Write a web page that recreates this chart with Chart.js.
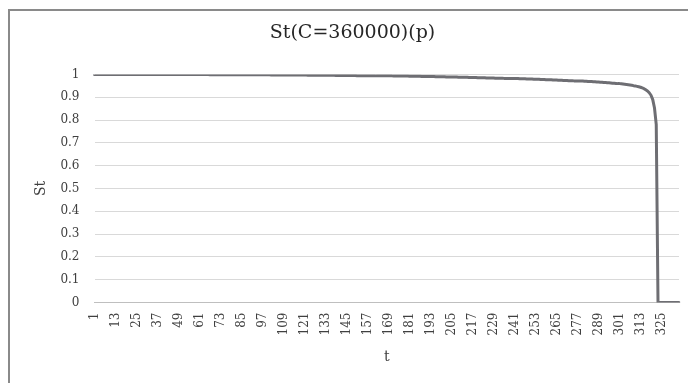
<!DOCTYPE html>
<html>
<head>
<meta charset="utf-8">
<script src="https://cdn.jsdelivr.net/npm/chart.js@4/dist/chart.umd.min.js"></script>
<style>
  html, body { margin: 0; padding: 0; background: #fff; }
  #wrap { width: 688px; height: 383px; position: relative; }
</style>
</head>
<body>
<div id="wrap"><canvas id="c" width="688" height="383"></canvas></div>
<script>
// Survival curve St for capital C = 360000, one value per period t = 1, 2, ...
const chartTitle = 'St(C=360000)(p)';
const xTitle = 't';
const yTitle = 'St';

const stValues = [
  1,1,1,1,1,1,1,1,1,1,1,                       // t 1-11
  1,1,1,1,1,1,1,1,1,1,1,                       // t 12-22
  1,1,1,1,1,1,1,1,1,1,1,                       // t 23-33
  1,1,1,1,1,1,1,1,1,1,1,                       // t 34-44
  1,1,1,1,1,1,1,1,1,1,1,                       // t 45-55
  1,1,1,1,1,1,1,1,1,1,1,                       // t 56-66
  0.999,0.999,0.999,0.999,0.999,0.999,0.999,   // t 67-73
  0.999,0.999,0.999,0.999,0.999,0.999,0.999,   // t 74-80
  0.999,0.999,0.999,0.999,0.999,0.999,0.999,   // t 81-87
  0.999,0.999,0.999,0.999,0.999,0.999,0.999,   // t 88-94
  0.999,0.999,0.999,0.999,0.999,0.999,0.999,   // t 95-101
  0.998,0.998,0.998,0.998,0.998,0.998,0.998,   // t 102-108
  0.998,0.998,0.998,0.998,0.998,0.998,0.998,   // t 109-115
  0.998,0.998,0.998,0.998,0.998,0.998,0.998,   // t 116-122
  0.997,0.997,0.997,0.997,0.997,0.997,0.997,0.997, // t 123-130
  0.997,0.997,0.997,0.997,0.997,0.997,0.997,0.997, // t 131-138
  0.996,0.996,0.996,0.996,0.996,0.996,         // t 139-144
  0.996,0.996,0.996,0.996,0.996,0.996,         // t 145-150
  0.995,0.995,0.995,0.995,0.995,0.995,0.995,0.995,0.995,0.995,0.995, // t 151-161
  0.994,0.994,0.994,0.994,0.994,0.994,0.994,0.994,0.994,0.994,       // t 162-171
  0.993,0.993,0.993,0.993,0.993,0.993,0.993,0.993,0.993,             // t 172-180
  0.992,0.992,0.992,0.992,0.992,0.992,0.992,                         // t 181-187
  0.991,0.991,0.991,0.991,0.991,0.991,0.991,0.991,                   // t 188-195
  0.990,0.990,0.990,0.990,0.990,0.990,                               // t 196-201
  0.989,0.989,0.989,0.989,0.989,0.989,0.989,                         // t 202-208
  0.988,0.988,0.988,0.988,0.988,0.988,                               // t 209-214
  0.987,0.987,0.987,0.987,0.987,               // t 215-219
  0.986,0.986,0.986,0.986,0.986,               // t 220-224
  0.985,0.985,0.985,0.985,0.985,               // t 225-229
  0.984,0.984,0.984,0.984,0.984,               // t 230-234
  0.983,0.983,0.983,0.983,0.983,               // t 235-239
  0.982,0.982,0.982,0.982,                     // t 240-243
  0.981,0.981,0.981,0.981,                     // t 244-247
  0.980,0.980,0.980,0.980,                     // t 248-251
  0.979,0.979,0.979,0.979,                     // t 252-255
  0.978,0.978,0.978,                           // t 256-258
  0.977,0.977,0.977,0.977,                     // t 259-262
  0.976,0.976,0.976,                           // t 263-265
  0.975,0.975,0.975,                           // t 266-268
  0.974,0.974,0.974,                           // t 269-271
  0.973,0.973,0.973,                           // t 272-274
  0.972,0.972,0.972,                           // t 275-277
  0.971,0.971,0.971,                           // t 278-280
  0.970,0.970,                                 // t 281-282
  0.969,0.969,0.969,                           // t 283-285
  0.968,0.968,                                 // t 286-287
  0.967,0.967,                                 // t 288-289
  0.966,0.966,                                 // t 290-291
  0.965,0.965,                                 // t 292-293
  0.964,0.964,                                 // t 294-295
  0.963,                                       // t 296
  0.962,0.962,                                 // t 297-298
  0.961,                                       // t 299
  0.960,0.960,                                 // t 300-301
  0.959,0.958,0.957,0.956,0.955,0.954,0.953,   // t 302-308
  0.951,0.950,0.948,0.946,0.944,0.941,0.938,   // t 309-315
  0.933,0.928,0.920,0.909,0.890,0.853,0.780,   // t 316-322
  0,0,0,0,0,0,0,0,0,0,0,0,0                    // t 323-335
];

// Category labels t = 1..N; only every 12th one is printed on the axis
const tLabels = [];
for (let i = 1; i <= stValues.length; i++) tLabels.push(String(i));
const tLabelStep = 12;

const serif = "'DejaVu Serif', 'Liberation Serif', serif";
const textColor = '#404040';
const gridColor = '#d9d9d9';
const lineColor = '#6e6e73';

// White background and the outer chart frame
const framePlugin = {
  id: 'frame',
  beforeDraw(chart) {
    const { ctx } = chart;
    ctx.save();
    ctx.fillStyle = '#ffffff';
    ctx.fillRect(0, 0, chart.width, chart.height);
    ctx.restore();
  },
  afterDraw(chart) {
    const { ctx } = chart;
    ctx.save();
    ctx.fillStyle = '#8a8a8a';
    ctx.fillRect(8, 9, chart.width - 8, 2);
    ctx.fillRect(8, 9, 2, chart.height - 9);
    ctx.restore();
  }
};

new Chart(document.getElementById('c'), {
  type: 'line',
  data: {
    labels: tLabels,
    datasets: [{
      label: yTitle,
      data: stValues,
      borderColor: lineColor,
      backgroundColor: lineColor,
      borderWidth: 3,
      pointRadius: 0,
      pointHoverRadius: 0,
      tension: 0,
      borderCapStyle: 'round',
      borderJoinStyle: 'round',
      fill: false
    }]
  },
  options: {
    responsive: false,
    animation: false,
    devicePixelRatio: 1,
    layout: { padding: { left: 26, right: 9, top: 0, bottom: 0 } },
    plugins: {
      legend: { display: false },
      tooltip: { enabled: false },
      title: {
        display: true,
        text: chartTitle,
        color: '#262626',
        font: { family: serif, size: 19, weight: 'normal' },
        padding: { top: 21.6, bottom: 30.1 }
      }
    },
    scales: {
      x: {
        type: 'category',
        offset: false,
        grid: { display: false, drawTicks: false },
        border: { display: true, color: '#bfbfbf', width: 1 },
        ticks: {
          autoSkip: false,
          maxRotation: 90,
          minRotation: 90,
          padding: 10,
          color: textColor,
          font: { family: serif, size: 12 },
          callback: (v, i) => (i % tLabelStep === 0 ? tLabels[i] : '')
        },
        title: {
          display: true,
          text: xTitle,
          color: textColor,
          font: { family: serif, size: 14 },
          padding: { top: 0, bottom: 17.6 }
        },
        afterFit: (s) => {
          s.height = 80.5;
          s.paddingLeft = 0;
          s.paddingRight = 0;
        }
      },
      y: {
        min: 0,
        max: 1,
        grid: { color: gridColor, lineWidth: 1, drawTicks: false },
        border: { display: false },
        ticks: {
          stepSize: 0.1,
          padding: 15,
          color: textColor,
          font: { family: serif, size: 12 },
          callback: (v) => String(Math.round(v * 10) / 10)
        },
        title: {
          display: true,
          text: yTitle,
          color: textColor,
          font: { family: serif, size: 14 },
          padding: { top: 6.6, bottom: 0 }
        },
        afterFit: (s) => { s.width = 68.5; }
      }
    }
  },
  plugins: [framePlugin]
});
</script>
</body>
</html>
